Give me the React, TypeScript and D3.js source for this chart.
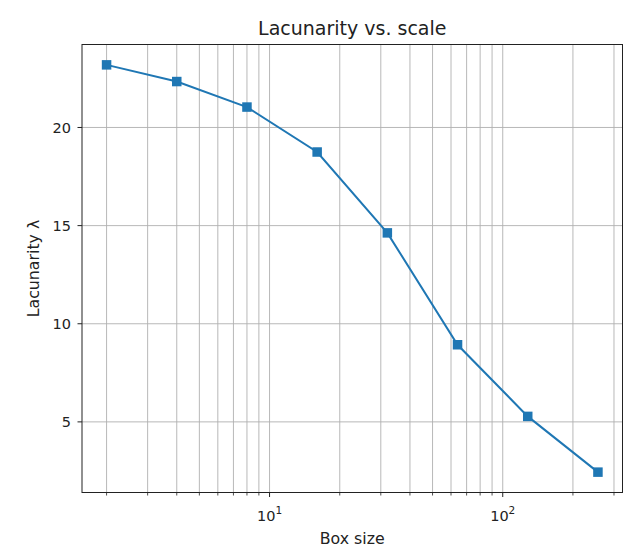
import React from "react";
import * as d3 from "d3";

const boxSizes = [2, 4, 8, 16, 32, 64, 128, 256];
const lacunarity = [23.19, 22.34, 21.04, 18.75, 14.63, 8.93, 5.28, 2.44];
const yTicks = [5, 10, 15, 20];
const xMajor = [10, 100];
const xMinor = [2, 3, 4, 5, 6, 7, 8, 9, 20, 30, 40, 50, 60, 70, 80, 90, 200, 300];

const W = 631, H = 551;
const L = 82, R = 622.5, T = 44.5, B = 492.5;
const FONT = "DejaVu Sans, sans-serif";

export default function App() {
  const lx0 = Math.log10(2), lx1 = Math.log10(256);
  const mx = (lx1 - lx0) * 0.05;
  const x = d3.scaleLog().domain([Math.pow(10, lx0 - mx), Math.pow(10, lx1 + mx)]).range([L, R]);
  const ymin = d3.min(lacunarity)!, ymax = d3.max(lacunarity)!;
  const my = (ymax - ymin) * 0.05;
  const y = d3.scaleLinear().domain([ymin - my, ymax + my]).range([B, T]);
  const pts = boxSizes.map((b, i) => [x(b), y(lacunarity[i])] as [number, number]);
  const line = d3.line()(pts)!;
  const ms = 9.5;
  const grid = "#b0b0b0";
  return (
    <svg width={W} height={H} style={{ position: "absolute", left: 0, top: 0 }} fontFamily={FONT}>
      <rect width={W} height={H} fill="#fff" />
      {xMinor.concat(xMajor).map((v) => (
        <line key={"gx" + v} x1={x(v)} x2={x(v)} y1={T} y2={B} stroke={grid} strokeWidth={0.9} />
      ))}
      {yTicks.map((v) => (
        <line key={"gy" + v} x1={L} x2={R} y1={y(v)} y2={y(v)} stroke={grid} strokeWidth={0.9} />
      ))}
      <path d={line} fill="none" stroke="#1f77b4" strokeWidth={2} />
      {pts.map(([px, py], i) => (
        <rect key={i} x={px - ms / 2} y={py - ms / 2} width={ms} height={ms} fill="#1f77b4" />
      ))}
      <rect x={L} y={T} width={R - L} height={B - T} fill="none" stroke="#222" strokeWidth={1} />
      {yTicks.map((v) => (
        <g key={"ty" + v}>
          <line x1={L - 4.5} x2={L} y1={y(v)} y2={y(v)} stroke="#222" strokeWidth={1} />
          <text x={L - 11} y={y(v)} dy="0.36em" textAnchor="end" fontSize={14.5} fill="#222">{v}</text>
        </g>
      ))}
      {xMinor.map((v) => (
        <line key={"tm" + v} x1={x(v)} x2={x(v)} y1={B} y2={B + 3} stroke="#222" strokeWidth={0.8} />
      ))}
      {xMajor.map((v) => (
        <g key={"tx" + v}>
          <line x1={x(v)} x2={x(v)} y1={B} y2={B + 4.5} stroke="#222" strokeWidth={1} />
          <text x={x(v)} y={B + 28} textAnchor="middle" fontSize={14.5} fill="#222">
            10<tspan dy={-6.5} fontSize={10.5}>{Math.round(Math.log10(v))}</tspan>
          </text>
        </g>
      ))}
      <text x={(L + R) / 2} y={544} textAnchor="middle" fontSize={15.8} fill="#222">Box size</text>
      <text transform={`translate(38.5,${(T + B) / 2}) rotate(-90)`} textAnchor="middle" fontSize={15.8} fill="#222">Lacunarity λ</text>
      <text x={(L + R) / 2} y={35} textAnchor="middle" fontSize={19} fill="#222">Lacunarity vs. scale</text>
    </svg>
  );
}
